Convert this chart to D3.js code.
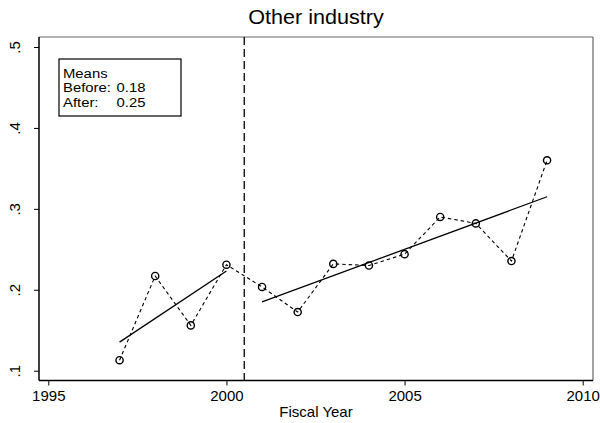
<!DOCTYPE html>
<html>
<head>
<meta charset="utf-8">
<script src="https://cdn.jsdelivr.net/npm/d3@7"></script>
<style>
  html, body { margin: 0; padding: 0; background: #fff; }
  svg { display: block; font-family: "Liberation Sans", Arial, Helvetica, sans-serif; }
</style>
</head>
<body>
<svg id="chart" width="600" height="423"></svg>
<script>
// Fiscal years and the annual share for "Other industry"
const years  = [1997, 1998, 1999, 2000, 2001, 2002, 2003, 2004, 2005, 2006, 2007, 2008, 2009];
const values = [0.113, 0.217, 0.156, 0.231, 0.2035, 0.1725, 0.232, 0.230, 0.244, 0.290, 0.282, 0.2355, 0.360];

// Policy break between the two periods
const breakYear = 2000.5;

// Axis ticks
const xTicks = [1995, 2000, 2005, 2010];
const yTicks = [0.1, 0.2, 0.3, 0.4, 0.5];

const title = "Other industry";
const xTitle = "Fiscal Year";
const legendTitle = "Means";
const legendLabels = ["Before:", "After:"];

const svg = d3.select("#chart");

const frame = { left: 39, right: 593, top: 37, bottom: 380.5 };
const x = d3.scaleLinear().domain([1995, 2010]).range([48.3, 582.7]);
const y = d3.scaleLinear().domain([0.1, 0.5]).range([370.7, 47]);

const pts = years.map((yr, i) => ({ x: yr, y: values[i] }));
const before = pts.filter(d => d.x < breakYear);
const after = pts.filter(d => d.x > breakYear);

// Least-squares line through a set of points
function fit(data) {
  const mx = d3.mean(data, d => d.x), my = d3.mean(data, d => d.y);
  const sxy = d3.sum(data, d => (d.x - mx) * (d.y - my));
  const sxx = d3.sum(data, d => (d.x - mx) ** 2);
  const b = sxy / sxx, a = my - b * mx;
  const x0 = d3.min(data, d => d.x), x1 = d3.max(data, d => d.x);
  return [{ x: x0, y: a + b * x0 }, { x: x1, y: a + b * x1 }];
}

// Plot region outline (top/right lighter, axes dark)
svg.append("line").attr("x1", frame.left).attr("x2", frame.right).attr("y1", frame.top).attr("y2", frame.top)
  .attr("stroke", "#666").attr("stroke-width", 1.2);
svg.append("line").attr("x1", frame.right).attr("x2", frame.right).attr("y1", frame.top).attr("y2", frame.bottom)
  .attr("stroke", "#666").attr("stroke-width", 1.2);

// Axes
const tickFont = 15;
const xAxis = d3.axisBottom(x).tickValues(xTicks).tickFormat(d3.format("d")).tickSize(5).tickSizeOuter(0);
const gx = svg.append("g").attr("transform", `translate(0,${frame.bottom})`).call(xAxis);
gx.select(".domain").attr("d", `M${frame.left},0H${frame.right}`).attr("stroke", "#000").attr("stroke-width", 1.5);
gx.selectAll(".tick line").attr("stroke", "#000").attr("stroke-width", 1);
gx.selectAll(".tick text").attr("font-size", tickFont).attr("fill", "#000").attr("dy", null).attr("y", 20.5)
  .attr("font-family", "Liberation Sans, Arial, sans-serif");

const yAxis = d3.axisLeft(y).tickValues(yTicks).tickFormat(d => d3.format(".1f")(d).replace(/^0/, "")).tickSize(5).tickSizeOuter(0);
const gy = svg.append("g").attr("transform", `translate(${frame.left},0)`).call(yAxis);
gy.select(".domain").attr("d", `M0,${frame.top}V${frame.bottom}`).attr("stroke", "#000").attr("stroke-width", 1.5);
gy.selectAll(".tick line").attr("stroke", "#000").attr("stroke-width", 1);
gy.selectAll(".tick text")
  .attr("font-size", tickFont).attr("fill", "#000")
  .attr("font-family", "Liberation Sans, Arial, sans-serif")
  .attr("x", null).attr("dy", null)
  .attr("text-anchor", "middle")
  .attr("transform", "translate(-19,0) rotate(-90)")
  .attr("y", 0);

// Break marker
svg.append("line")
  .attr("x1", x(breakYear)).attr("x2", x(breakYear))
  .attr("y1", frame.top).attr("y2", frame.bottom)
  .attr("stroke", "#000").attr("stroke-width", 1.3)
  .attr("stroke-dasharray", "8,4");

// Annual series: dashed connector
const line = d3.line().x(d => x(d.x)).y(d => y(d.y));
svg.append("path").datum(pts).attr("d", line)
  .attr("fill", "none").attr("stroke", "#000").attr("stroke-width", 1.1)
  .attr("stroke-dasharray", "3.5,3");

// Fitted trends for each period
[before, after].forEach(seg => {
  svg.append("path").datum(fit(seg)).attr("d", line)
    .attr("fill", "none").attr("stroke", "#000").attr("stroke-width", 1.3);
});

// Markers
svg.append("g").selectAll("circle").data(pts).join("circle")
  .attr("cx", d => x(d.x)).attr("cy", d => y(d.y)).attr("r", 3.6)
  .attr("fill", "none").attr("stroke", "#000").attr("stroke-width", 1.4);

// Title and axis title
svg.append("text").attr("transform", "translate(316,24) scale(1.08,1)").attr("text-anchor", "middle")
  .attr("font-size", 20).attr("fill", "#000").text(title);
svg.append("text").attr("x", 316).attr("y", 417).attr("text-anchor", "middle")
  .attr("font-size", 15).attr("fill", "#000").text(xTitle);

// Means box
const meanBefore = d3.mean(before, d => d.y);
const meanAfter = d3.mean(after, d => d.y);
const lg = svg.append("g");
lg.append("rect").attr("x", 59).attr("y", 59).attr("width", 122).attr("height", 57)
  .attr("fill", "#fff").attr("stroke", "#000").attr("stroke-width", 1.2);
const legendFont = 13.5;
lg.append("text").attr("transform", "translate(63,78) scale(1.1,1)")
  .attr("font-size", legendFont).text(legendTitle);
[meanBefore, meanAfter].forEach((m, i) => {
  const yy = 92.3 + i * 14.2;
  lg.append("text").attr("transform", `translate(63,${yy}) scale(1.1,1)`)
    .attr("font-size", legendFont).text(legendLabels[i]);
  lg.append("text").attr("transform", `translate(116.5,${yy}) scale(1.1,1)`)
    .attr("font-size", legendFont).text(d3.format(".2f")(m));
});
</script>
</body>
</html>
